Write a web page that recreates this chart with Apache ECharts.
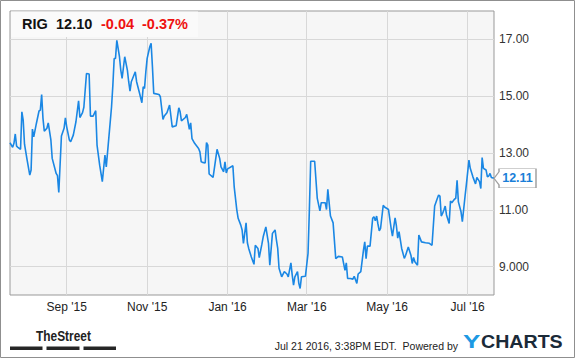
<!DOCTYPE html>
<html>
<head>
<meta charset="utf-8">
<script src="https://cdn.jsdelivr.net/npm/echarts@6/dist/echarts.min.js"></script>
<style>
html,body{margin:0;padding:0;background:#fff;}
#chart{width:575px;height:358px;}
</style>
</head>
<body>
<div id="chart"></div>
<script>
// ---- data ----
const startDate = '2015-07-20';          // day 0 of the series
const endDay = 367;                      // 2016-07-21
const days = [0,2,3,4,5,6,8,9,10,11,13,15,16,17,18,20,22,23,24,25,26,28,29,31,32,35,36,37,39,41,42,43,45,46,48,50,52,53,55,56,58,60,61,63,65,66,68,69,70,72,73,75,77,78,79,80,81,83,84,85,87,89,90,91,92,
95,96,98,100,101,102,103,104,106,107,108,109,113,114,116,117,119,121,123,126,128,129,130,133,134,135,136,137,138,140,141,143,144,145,146,148,149,150,151,154,157,159,160,162,163,164,165,169,170,172,173,175,176,177,179,180,181,183,185,186,188,189,191,192,194,195,196,197,199,201,202,203,204,206,208,210,211,213,214,215,216,218,219,220,221,224,226,227,228,231,233,235,236,239,240,241,243,245,247,249,252,254,255,256,258,260,261,263,264,266,268,269,270,271,273,275,276,277,278,279,280,281,283,284,287,289,290,292,293,294,295,297,299,300,302,304,305,306,307,309,310,312,315,318,320,322,324,325,326,327,328,329,330,331,333,334,335,337,338,339,340,342,343,345,346,348,349,351,353,354,356,357,358,359,361,362,363,364,365,367];
const prices = [13.36,13.20,13.34,13.67,13.24,13.20,13.13,14.45,14.16,13.31,12.75,12.22,12.40,13.84,13.57,14.04,14.48,14.51,15.06,14.22,13.77,13.87,14.06,13.46,12.81,12.28,12.20,11.61,13.60,13.87,14.24,13.92,13.46,13.40,13.63,14.10,14.84,14.25,14.42,14.61,15.80,15.78,14.30,14.30,14.49,13.28,12.57,12.28,11.99,12.93,12.51,13.57,14.63,15.39,16.33,16.33,16.97,16.39,15.92,15.63,16.39,15.92,15.51,15.18,15.51,
15.86,15.51,15.15,14.77,15.33,15.27,15.86,16.33,16.74,16.86,16.04,15.10,15.06,14.98,14.18,14.30,14.42,14.69,13.92,13.96,14.59,14.45,14.13,14.25,14.36,14.10,13.83,14.06,13.51,13.34,13.28,13.16,13.04,12.69,12.67,12.65,13.37,13.28,12.26,12.14,13.13,12.81,12.51,12.34,12.69,12.30,12.44,12.55,11.81,10.99,10.70,10.46,10.29,9.82,10.54,9.84,9.64,9.34,9.08,9.75,9.64,9.32,9.79,10.05,10.40,10.11,9.82,9.05,10.17,10.29,9.94,9.64,8.94,8.64,8.82,8.74,8.64,9.13,8.70,8.35,8.64,8.82,8.41,8.23,8.64,8.66,9.47,10.99,12.71,12.71,11.40,10.96,11.25,11.25,11.01,11.72,10.78,10.54,9.28,9.36,9.34,8.87,9.13,8.58,8.58,8.56,8.66,8.41,8.74,8.82,9.57,9.87,9.28,9.72,9.72,10.70,10.76,10.61,10.78,10.50,10.26,10.35,11.16,11.10,11.01,10.35,10.07,10.72,10.43,10.00,10.23,9.64,9.29,9.40,9.69,9.40,9.11,9.32,9.17,9.05,10.11,9.87,9.84,9.82,9.75,11.13,11.40,11.52,11.48,10.78,10.87,10.99,11.13,10.82,10.52,11.31,11.25,11.37,11.40,12.04,11.28,10.93,10.58,11.46,11.87,12.75,12.46,12.16,11.91,12.14,11.99,11.75,12.84,12.46,12.40,12.16,12.19,12.28,12.14,12.11];

const xTickDates = ['2015-09-01','2015-11-01','2016-01-01','2016-03-01','2016-05-01','2016-07-01'];
const xTickLabels = ["Sep '15","Nov '15","Jan '16","Mar '16","May '16","Jul '16"];
const yTickValues = [9, 11, 13, 15, 17];
const yTickLabels = ['9.000', '11.00', '13.00', '15.00', '17.00'];
const yMin = 8, yMax = 18;

const ticker = 'RIG', lastPrice = '12.10', change = '-0.04', changePct = '-0.37%';
const stamp = 'Jul 21 2016, 3:38PM EDT.  Powered by';

// ---- helpers ----
function parseDay(s, add) {
  const p = s.split('-').map(Number);
  return new Date(p[0], p[1] - 1, p[2] + (add || 0)).getTime();
}
const seriesData = days.map((d, i) => [parseDay(startDate, d), prices[i]]);
const xTickTimes = xTickDates.map(s => parseDay(s));
const lastPoint = seriesData[seriesData.length - 1];

const FONT = "'Liberation Sans', Arial, sans-serif";
const chart = echarts.init(document.getElementById('chart'), null, {renderer: 'svg'});

chart.setOption({
  animation: false,
  backgroundColor: '#ffffff',
  grid: {
    left: 10, top: 11, width: 484, height: 284,
    show: true, backgroundColor: '#f6f6f6', borderColor: '#999', borderWidth: 1
  },
  xAxis: {
    type: 'value',
    min: parseDay(startDate), max: parseDay(startDate, endDay),
    axisLine: {show: false},
    axisTick: {show: false, customValues: xTickTimes},
    axisLabel: {
      customValues: xTickTimes,
      formatter: v => { const i = xTickTimes.indexOf(v); return i >= 0 ? xTickLabels[i] : ''; },
      color: '#222', fontSize: 12, fontFamily: FONT, margin: 6
    },
    splitLine: {show: true, lineStyle: {color: '#d8d8d8', width: 1}}
  },
  yAxis: {
    type: 'value', position: 'right',
    min: yMin, max: yMax,
    axisLine: {show: false},
    axisTick: {show: false, customValues: yTickValues},
    axisLabel: {
      customValues: yTickValues,
      formatter: v => { const i = yTickValues.indexOf(v); return i >= 0 ? yTickLabels[i] : ''; },
      color: '#333', fontSize: 12, fontFamily: FONT, margin: 5
    },
    splitLine: {show: true, lineStyle: {color: '#d8d8d8', width: 1}}
  },
  series: [{
    type: 'line',
    data: seriesData,
    showSymbol: false,
    symbol: 'none',
    lineStyle: {color: '#1a87e4', width: 1.6},
    markPoint: {
      silent: true,
      symbol: 'path://M0,9.5 L5,3 L5,0 L42,0 L42,19 L5,19 L5,16 Z',
      symbolKeepAspect: false,
      symbolSize: [42, 19],
      symbolOffset: [21, 0],
      itemStyle: {color: '#ffffff', borderColor: '#a0a0a0', borderWidth: 1},
      label: {
        show: true, position: 'inside', offset: [2.5, 0],
        formatter: p => p.value.toFixed(2),
        color: '#1a7fd8', fontWeight: 'bold', fontSize: 12.5, fontFamily: FONT
      },
      data: [{coord: lastPoint, value: lastPoint[1]}]
    }
  }],
  graphic: [
    {type: 'rect', z: 200, silent: true, shape: {x: 0.5, y: 0.5, width: 574, height: 357},
     style: {fill: 'none', stroke: '#8f8f8f', lineWidth: 1}},
    {type: 'rect', z: 150, silent: true, shape: {x: 11, y: 11.5, width: 187, height: 25.5},
     style: {fill: '#fafafa'}},
    {type: 'text', z: 160, x: 22, y: 24, style: {text: ticker, font: "bold 14.5px " + FONT, fill: '#111', verticalAlign: 'middle'}},
    {type: 'text', z: 160, x: 56, y: 24, style: {text: lastPrice, font: "bold 14.5px " + FONT, fill: '#111', verticalAlign: 'middle'}},
    {type: 'text', z: 160, x: 101, y: 24, style: {text: change, font: "bold 14.5px " + FONT, fill: '#ee1111', verticalAlign: 'middle'}},
    {type: 'text', z: 160, x: 142, y: 24, style: {text: changePct, font: "bold 14.5px " + FONT, fill: '#ee1111', verticalAlign: 'middle'}},
    {type: 'group', x: 36, y: 336.5, scaleX: 0.85, children: [
      {type: 'text', style: {text: 'TheStreet', font: "bold 14px " + FONT, fill: '#222', verticalAlign: 'middle'}}
    ]},
    {type: 'rect', shape: {x: 10, y: 346.5, width: 32.5, height: 3.5}, style: {fill: '#262626'}},
    {type: 'rect', shape: {x: 46.5, y: 346.5, width: 33, height: 3.5}, style: {fill: '#262626'}},
    {type: 'rect', shape: {x: 83.5, y: 346.5, width: 32.5, height: 3.5}, style: {fill: '#262626'}},
    {type: 'text', x: 458, y: 346, style: {text: stamp, font: "10.5px " + FONT, fill: '#222', align: 'right', verticalAlign: 'middle'}},
    {type: 'group', x: 463, y: 341.5, scaleX: 1.45, children: [
      {type: 'text', style: {text: 'Y', font: "bold 18px " + FONT, fill: '#1d99e3', verticalAlign: 'middle'}}
    ]},
    {type: 'group', x: 481, y: 341.5, scaleX: 1.09, children: [
      {type: 'text', style: {text: 'CHARTS', font: "bold 18px " + FONT, fill: '#1b2a38', verticalAlign: 'middle'}}
    ]}
  ]
});
</script>
</body>
</html>
